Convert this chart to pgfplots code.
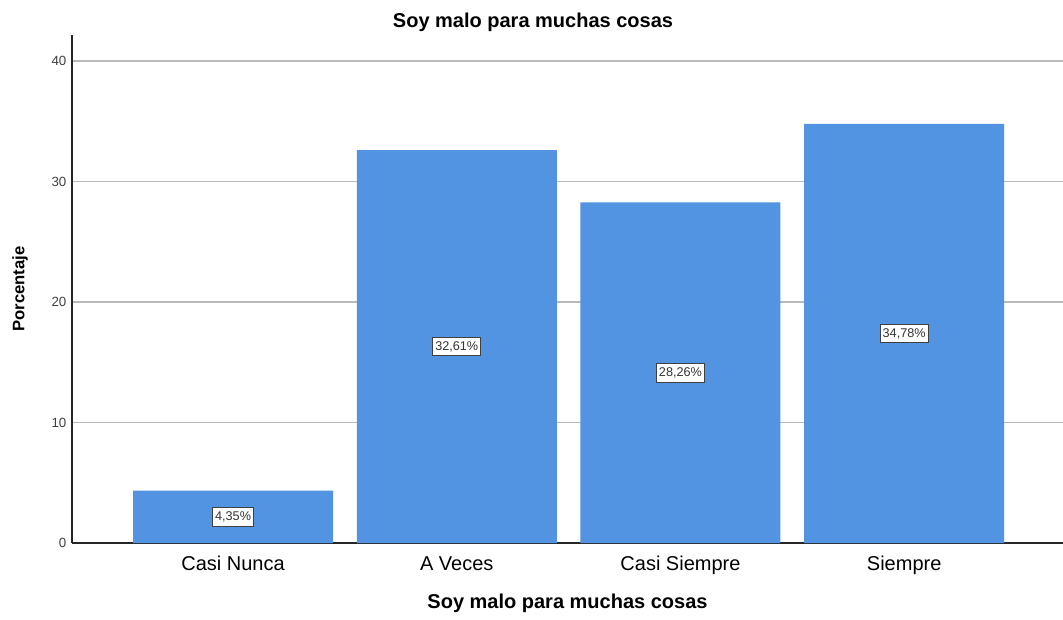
\documentclass[border=0pt]{standalone}
\usepackage{pgfplots}
\pgfplotsset{compat=1.18}
\usepackage{pgfplotstable}
\usepackage{fontspec}
\setmainfont{Liberation Sans}
\definecolor{barblue}{RGB}{82,148,226}
\definecolor{gridgray}{RGB}{185,185,185}

\pgfplotstableread{
x v
0 4.35
1 32.61
2 28.26
3 34.78
}\datatable

\begin{document}
\begin{tikzpicture}
\useasboundingbox (-54pt,-57pt) rectangle (743.25pt,407.25pt);
\begin{axis}[
  at={(0,0)}, anchor=south west,
  scale only axis,
  width=743.25pt, height=381pt,
  xmin=-0.72, xmax=3.71,
  ymin=0, ymax=42.16,
  axis x line*=bottom, axis y line*=left,
  axis line style={-, line width=1.1pt, color=black!85},
  xtick={0,1,2,3},
  xticklabels={Casi Nunca, A Veces, Casi Siempre, Siempre},
  ytick={0,10,20,30,40},
  major tick length=0pt,
  ymajorgrids,
  grid style={line width=0.9pt, color=gridgray},
  /pgf/number format/assume math mode=true,
  yticklabel style={font=\fontsize{10}{12}\selectfont, text=black!75, inner sep=4pt},
  xticklabel style={font=\fontsize{15}{18}\selectfont, anchor=base, yshift=-20.25pt},
  xlabel={Soy malo para muchas cosas},
  ylabel={Porcentaje},
  xlabel style={at={(axis description cs:0.5,0)}, anchor=center, yshift=-45.5pt, font=\bfseries\fontsize{15}{18}\selectfont},
  ylabel style={at={(axis description cs:0,0.5)}, anchor=center, rotate=0, yshift=39pt, font=\bfseries\fontsize{12.5}{15}\selectfont},
  clip=false,
]
\addplot[ybar, bar width=0.894, fill=barblue, draw=none] table[x=x, y=v] {\datatable};
\addplot[only marks, mark=none,
  point meta=\thisrow{v},
  nodes near coords={\pgfmathprintnumber[fixed, fixed zerofill, precision=2, use comma]{\pgfplotspointmeta}\%},
  every node near coord/.append style={anchor=center, fill=white, draw=black!75, line width=0.7pt,
    inner xsep=2pt, inner ysep=3pt, font=\fontsize{9.5}{11}\selectfont, text=black!80},
] table[x=x, y expr=\thisrow{v}/2] {\datatable};
\end{axis}
\node[font=\bfseries\fontsize{15}{18}\selectfont] at (345.75pt,390.75pt) {Soy malo para muchas cosas};
\end{tikzpicture}
\end{document}
